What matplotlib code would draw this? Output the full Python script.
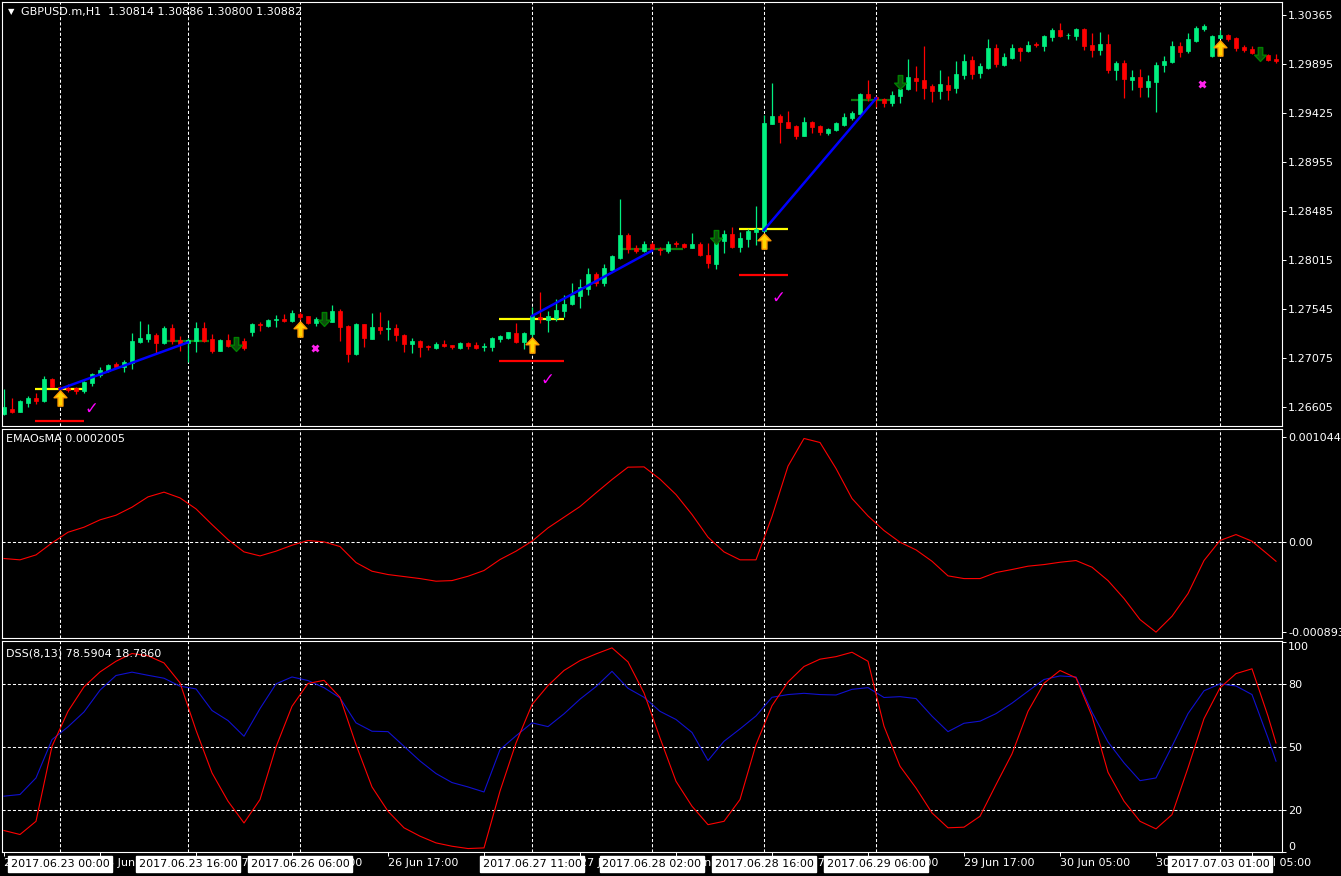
import numpy as np
import matplotlib.pyplot as plt
from matplotlib.path import Path

# ---------------- data (GBPUSD.m H1, bar 0 = 22 Jun 17:00) ----------------
opens = [1.26538, 1.26586, 1.26557, 1.26643, 1.26695, 1.26663, 1.26874, 1.26800, 1.26790, 1.26787,
         1.26758, 1.26832, 1.26912, 1.26950, 1.27017, 1.26989, 1.27030, 1.27228, 1.27257, 1.27296,
         1.27219, 1.27363, 1.27248, 1.27222, 1.27238, 1.27366, 1.27254, 1.27142, 1.27248, 1.27190,
         1.27238, 1.27324, 1.27404, 1.27382, 1.27436, 1.27452, 1.27433, 1.27497, 1.27475, 1.27411,
         1.27452, 1.27423, 1.27526, 1.27382, 1.27113, 1.27401, 1.27257, 1.27375, 1.27356, 1.27363,
         1.27296, 1.27209, 1.27238, 1.27193, 1.27171, 1.27209, 1.27196, 1.27171, 1.27216, 1.27200,
         1.27180, 1.27184, 1.27260, 1.27267, 1.27312, 1.27232, 1.27305, 1.27468, 1.27439, 1.27455,
         1.27526, 1.27593, 1.27670, 1.27737, 1.27881, 1.27797, 1.27919, 1.28037, 1.28255, 1.28133,
         1.28104, 1.28168, 1.28124, 1.28104, 1.28175, 1.28168, 1.28133, 1.28168, 1.28063, 1.27980,
         1.28200, 1.28264, 1.28143, 1.28216, 1.28287, 1.28296, 1.29319, 1.29396, 1.29338, 1.29300,
         1.29204, 1.29342, 1.29300, 1.29236, 1.29262, 1.29310, 1.29374, 1.29415, 1.29607, 1.29578,
         1.29556, 1.29517, 1.29591, 1.29655, 1.29760, 1.29741, 1.29684, 1.29636, 1.29693, 1.29668,
         1.29789, 1.29933, 1.29808, 1.29860, 1.30048, 1.29885, 1.29955, 1.30048, 1.30019, 1.30090,
         1.30071, 1.30157, 1.30221, 1.30170, 1.30166, 1.30230, 1.30077, 1.30029, 1.30087, 1.29837,
         1.29904, 1.29741, 1.29770, 1.29674, 1.29722, 1.29885, 1.29911, 1.30067, 1.30019, 1.30115,
         1.30230, 1.29971, 1.30147, 1.30173, 1.30144, 1.30058, 1.30039, 1.30010, 1.29981, 1.29943]
highs = [1.26778, 1.26688, 1.26672, 1.26710, 1.26742, 1.26902, 1.26880, 1.26806, 1.26822, 1.26797,
         1.26858, 1.26931, 1.26985, 1.27017, 1.27040, 1.27056, 1.27312, 1.27430, 1.27401, 1.27312,
         1.27382, 1.27398, 1.27283, 1.27264, 1.27417, 1.27417, 1.27302, 1.27257, 1.27302, 1.27273,
         1.27264, 1.27414, 1.27423, 1.27446, 1.27487, 1.27494, 1.27535, 1.27513, 1.27478, 1.27465,
         1.27513, 1.27583, 1.27545, 1.27391, 1.27414, 1.27404, 1.27507, 1.27516, 1.27439, 1.27401,
         1.27305, 1.27264, 1.27248, 1.27203, 1.27225, 1.27248, 1.27200, 1.27225, 1.27232, 1.27225,
         1.27216, 1.27273, 1.27296, 1.27328, 1.27407, 1.27328, 1.27564, 1.27705, 1.27526, 1.27641,
         1.27676, 1.27791, 1.27833, 1.27935, 1.27903, 1.27977, 1.28063, 1.28597, 1.28271, 1.28159,
         1.28197, 1.28191, 1.28136, 1.28197, 1.28197, 1.28178, 1.28274, 1.28191, 1.28175, 1.28271,
         1.28303, 1.28328, 1.28287, 1.28309, 1.28536, 1.29406, 1.29716, 1.29415, 1.29447, 1.29313,
         1.29386, 1.29351, 1.29306, 1.29281, 1.29342, 1.29428, 1.29447, 1.29620, 1.29741, 1.29588,
         1.29569, 1.29636, 1.29786, 1.29943, 1.29876, 1.30071, 1.29703, 1.29837, 1.29780, 1.29923,
         1.29991, 1.29971, 1.29901, 1.30134, 1.30087, 1.30000, 1.30087, 1.30058, 1.30115, 1.30106,
         1.30173, 1.30240, 1.30288, 1.30192, 1.30237, 1.30237, 1.30192, 1.30202, 1.30182, 1.29923,
         1.29933, 1.29837, 1.29847, 1.29789, 1.29914, 1.29971, 1.30115, 1.30106, 1.30192, 1.30259,
         1.30278, 1.30173, 1.30221, 1.30179, 1.30157, 1.30077, 1.30067, 1.30061, 1.29991, 1.29991]
lows = [1.26528, 1.26547, 1.26554, 1.26608, 1.26631, 1.26650, 1.26794, 1.26768, 1.26752, 1.26730,
        1.26739, 1.26806, 1.26896, 1.26937, 1.26976, 1.26937, 1.26969, 1.27222, 1.27232, 1.27126,
        1.27212, 1.27212, 1.27142, 1.27040, 1.27136, 1.27232, 1.27126, 1.27139, 1.27184, 1.27152,
        1.27152, 1.27286, 1.27334, 1.27375, 1.27372, 1.27417, 1.27423, 1.27439, 1.27404, 1.27382,
        1.27407, 1.27417, 1.27241, 1.27040, 1.27107, 1.27184, 1.27257, 1.27305, 1.27248, 1.27241,
        1.27136, 1.27126, 1.27088, 1.27152, 1.27164, 1.27177, 1.27164, 1.27164, 1.27164, 1.27158,
        1.27145, 1.27145, 1.27232, 1.27260, 1.27216, 1.27164, 1.27280, 1.27407, 1.27321, 1.27430,
        1.27471, 1.27583, 1.27558, 1.27676, 1.27769, 1.27769, 1.27913, 1.28028, 1.28085, 1.28079,
        1.28095, 1.28111, 1.28066, 1.28079, 1.28143, 1.28127, 1.28127, 1.28053, 1.27941, 1.27925,
        1.28085, 1.28133, 1.28095, 1.28143, 1.28159, 1.28287, 1.29319, 1.29134, 1.29278, 1.29175,
        1.29201, 1.29230, 1.29217, 1.29217, 1.29255, 1.29303, 1.29358, 1.29406, 1.29543, 1.29485,
        1.29485, 1.29495, 1.29524, 1.29645, 1.29636, 1.29562, 1.29533, 1.29562, 1.29549, 1.29620,
        1.29751, 1.29751, 1.29760, 1.29844, 1.29863, 1.29879, 1.29943, 1.29923, 1.30010, 1.30058,
        1.30019, 1.30115, 1.30154, 1.30138, 1.30125, 1.30029, 1.29962, 1.29981, 1.29812, 1.29741,
        1.29569, 1.29645, 1.29578, 1.29578, 1.29434, 1.29818, 1.29901, 1.29962, 1.30000, 1.30106,
        1.30211, 1.29965, 1.30141, 1.30119, 1.30023, 1.30013, 1.29991, 1.29971, 1.29927, 1.29908]
closes = [1.26605, 1.26557, 1.26663, 1.26695, 1.26663, 1.26874, 1.26797, 1.26781, 1.26771, 1.26758,
          1.26845, 1.26918, 1.26960, 1.27008, 1.26989, 1.27040, 1.27238, 1.27267, 1.27302, 1.27219,
          1.27359, 1.27241, 1.27209, 1.27244, 1.27366, 1.27241, 1.27142, 1.27248, 1.27190, 1.27238,
          1.27168, 1.27401, 1.27388, 1.27439, 1.27452, 1.27433, 1.27510, 1.27471, 1.27411, 1.27452,
          1.27427, 1.27526, 1.27375, 1.27117, 1.27401, 1.27270, 1.27372, 1.27344, 1.27366, 1.27299,
          1.27209, 1.27238, 1.27184, 1.27177, 1.27209, 1.27190, 1.27177, 1.27216, 1.27190, 1.27174,
          1.27193, 1.27264, 1.27286, 1.27321, 1.27232, 1.27312, 1.27478, 1.27449, 1.27478, 1.27535,
          1.27593, 1.27679, 1.27753, 1.27877, 1.27797, 1.27935, 1.28053, 1.28255, 1.28120, 1.28104,
          1.28168, 1.28120, 1.28111, 1.28168, 1.28165, 1.28136, 1.28168, 1.28063, 1.27989, 1.28207,
          1.28264, 1.28140, 1.28223, 1.28293, 1.28309, 1.29332, 1.29396, 1.29338, 1.29284, 1.29204,
          1.29342, 1.29294, 1.29246, 1.29271, 1.29332, 1.29386, 1.29428, 1.29607, 1.29572, 1.29556,
          1.29524, 1.29597, 1.29658, 1.29770, 1.29732, 1.29668, 1.29636, 1.29703, 1.29645, 1.29799,
          1.29923, 1.29802, 1.29876, 1.30048, 1.29895, 1.29962, 1.30048, 1.30019, 1.30077, 1.30080,
          1.30163, 1.30221, 1.30166, 1.30176, 1.30230, 1.30071, 1.30032, 1.30087, 1.29837, 1.29904,
          1.29751, 1.29770, 1.29674, 1.29732, 1.29885, 1.29923, 1.30067, 1.30010, 1.30134, 1.30240,
          1.30259, 1.30163, 1.30173, 1.30134, 1.30051, 1.30032, 1.30000, 1.29981, 1.29936, 1.29927]

# oscillators read every 2 bars (plus the last bar)
osc_bars = list(range(0, 160, 2)) + [159]
ema_osma = np.array([-1.62, -1.75, -1.26, -0.07, 0.99, 1.49, 2.22, 2.68, 3.48, 4.50,
                     4.97, 4.40, 3.31, 1.75, 0.26, -0.96, -1.36, -0.89, -0.30, 0.17,
                     0.03, -0.43, -2.02, -2.88, -3.21, -3.41, -3.61, -3.87, -3.81, -3.38,
                     -2.81, -1.72, -0.89, 0.10, 1.42, 2.48, 3.54, 4.90, 6.22, 7.45,
                     7.48, 6.26, 4.73, 2.75, 0.50, -0.96, -1.75, -1.75, 2.55, 7.55,
                     10.3, 9.9, 7.32, 4.34, 2.61, 1.16, 0.0, -0.76, -1.89, -3.34,
                     -3.61, -3.61, -3.01, -2.71, -2.38, -2.22, -1.99, -1.82, -2.48, -3.81,
                     -5.59, -7.68, -8.93, -7.35, -5.10, -1.82, 0.17, 0.76, 0.10, -1.22,
                     -1.89]) * 1e-4
dss_red = [10.2, 8.3, 14.6, 50.4, 67.1, 78.8, 85.9, 91.0, 94.7, 93.6,
           90.2, 80.7, 58.1, 37.7, 24.2, 13.8, 25.0, 50.1, 69.5, 80.4,
           81.9, 73.8, 51.2, 31.0, 19.4, 11.5, 7.5, 4.3, 2.7, 1.6,
           1.9, 29.0, 52.0, 70.3, 79.4, 86.6, 91.3, 94.5, 97.4, 90.7,
           75.9, 54.4, 33.7, 21.8, 13.0, 14.6, 25.0, 51.2, 69.8, 81.1,
           88.5, 92.0, 93.2, 95.3, 91.0, 60.0, 40.9, 30.5, 18.6, 11.5,
           11.8, 17.0, 32.1, 46.8, 67.1, 80.5, 86.6, 83.1, 64.8, 38.0,
           24.2, 14.6, 11.0, 17.8, 40.1, 63.6, 78.3, 85.1, 87.4, 64.8,
           52.0]
dss_blue = [26.6, 27.4, 35.3, 53.6, 59.7, 66.8, 77.2, 84.2, 85.8, 84.3,
            82.9, 79.1, 77.8, 67.5, 62.7, 55.2, 68.4, 80.2, 83.5, 81.8,
            78.4, 73.5, 61.6, 57.6, 57.4, 50.4, 43.4, 37.4, 33.1, 31.0,
            28.6, 48.8, 55.4, 61.6, 59.8, 65.9, 72.9, 78.9, 86.2, 78.1,
            73.8, 67.1, 63.2, 57.0, 43.6, 52.8, 58.7, 64.9, 73.8, 75.1,
            75.7, 75.1, 74.9, 77.6, 78.4, 73.7, 74.1, 73.2, 64.8, 57.4,
            61.4, 62.4, 66.0, 71.0, 76.7, 82.3, 84.0, 83.5, 66.7, 52.5,
            42.5, 34.0, 35.3, 50.4, 66.0, 76.9, 80.2, 79.2, 75.1, 54.4,
            43.3]

# signal objects on the price chart
trade_bars = [7, 66, 95]
level_start = [3.9, 61.9, 91.9]
level_end = [10.0, 70.0, 98.0]
entry_prices = [1.26778, 1.27452, 1.28312]
stop_prices = [1.26471, 1.27046, 1.27871]
trend_end_bars = [23, 81, 109]
trend_start_prices = [1.26778, 1.27478, 1.28302]
trend_end_prices = [1.27225, 1.28104, 1.29565]
target_start = [20.1, 77.2, 105.9]
target_end = [25.6, 84.9, 110.7]
target_prices = [1.27241, 1.28120, 1.29552]
up_bars = [7, 37, 66, 95, 152]
up_prices = [1.26691, 1.27353, 1.27200, 1.28197, 1.30048]
down_bars = [29, 40, 89, 112, 157]
down_prices = [1.27209, 1.27449, 1.28235, 1.29722, 1.29990]
check_bars = [10.9, 67.9, 96.8]
check_prices = [1.26591, 1.26864, 1.27653]
cross_bars = [38.9, 149.8]
cross_prices = [1.27174, 1.29703]

price_ticks = [1.30365, 1.29895, 1.29425, 1.28955, 1.28485, 1.28015, 1.27545, 1.27075, 1.26605]
sep_bars = [7, 23, 37, 66, 81, 95, 109, 152]
sep_labels = ['2017.06.23 00:00', '2017.06.23 16:00', '2017.06.26 06:00', '2017.06.27 11:00',
              '2017.06.28 02:00', '2017.06.28 16:00', '2017.06.29 06:00', '2017.07.03 01:00']
time_ticks = [0, 12, 24, 36, 48, 60, 72, 84, 96, 108, 120, 132, 144, 156]
time_labels = ['22 Jun 2017', '23 Jun 05:00', '23 Jun 17:00', '26 Jun 05:00', '26 Jun 17:00',
               '27 Jun 05:00', '27 Jun 17:00', '28 Jun 05:00', '28 Jun 17:00', '29 Jun 05:00',
               '29 Jun 17:00', '30 Jun 05:00', '30 Jun 17:00', '3 Jul 05:00']

# ---------------- figure ----------------
W, H = 1341, 876
fig = plt.figure(figsize=(W / 100, H / 100), dpi=100, facecolor='black')

def rect(top, bottom):
    return [2 / W, 1 - bottom / H, 1280 / W, (bottom - top) / H]

ax1 = fig.add_axes(rect(2, 426))
ax2 = fig.add_axes(rect(429, 638))
ax3 = fig.add_axes(rect(641, 852))

dash = (0, (3, 2))
for ax in (ax1, ax2, ax3):
    ax.set_facecolor('black')
    ax.set_xlim(-0.25, 159.75)
    for s in ax.spines.values():
        s.set_color('white')
        s.set_linewidth(0.8)
    ax.yaxis.tick_right()
    ax.tick_params(axis='y', colors='white', labelsize=8, length=3, width=0.7, pad=1.5)
    for b in sep_bars:
        ax.axvline(b, color='white', lw=0.75, ls=dash, zorder=0.5)

ax1.set_xticks([])
ax2.set_xticks([])

# candles
x = np.arange(len(opens))
o, h, l, c = map(np.array, (opens, highs, lows, closes))
col = np.where(c >= o, '#00f080', '#ff0000')
ax1.vlines(x, l, h, colors=col, lw=0.9, zorder=2)
ax1.bar(x, np.maximum(np.abs(c - o), 0.000012), bottom=np.minimum(o, c), width=0.62,
        color=col, edgecolor=col, lw=0.5, zorder=2.1)

# trade levels
ax1.hlines(entry_prices, level_start, level_end, colors='#ffff00', lw=1.6, zorder=1.5)
ax1.hlines(stop_prices, level_start, level_end, colors='#ff0000', lw=1.6, zorder=1.5)
ax1.hlines(target_prices, target_start, target_end, colors='#0a7a0a', lw=1.6, zorder=1.5)
for i in range(len(trade_bars)):
    ax1.plot([trade_bars[i], trend_end_bars[i]], [trend_start_prices[i], trend_end_prices[i]],
             color='#0000ff', lw=1.8, zorder=2.5)

up_arrow = Path([(0, .5), (.42, .05), (.16, .05), (.16, -.5), (-.16, -.5), (-.16, .05),
                 (-.42, .05), (0, .5)], closed=True)
down_arrow = Path([(0, -.5), (.42, -.05), (.16, -.05), (.16, .5), (-.16, .5), (-.16, -.05),
                   (-.42, -.05), (0, -.5)], closed=True)
ax1.plot(up_bars, up_prices, ls='none', marker=up_arrow, ms=11, mfc='#ffd400', mec='#ff9a00',
         mew=1, zorder=4)
ax1.plot(down_bars, down_prices, ls='none', marker=down_arrow, ms=10, mfc='#0b4f0b',
         mec='#008000', mew=1, zorder=4)
for bx, py in zip(check_bars, check_prices):
    ax1.text(bx, py, '\u2713', color='#ff00ff', fontsize=12, fontweight='bold',
             ha='center', va='center', zorder=4)
ax1.plot(cross_bars, cross_prices, ls='none', marker='x', ms=5, mew=2, color='#ff22ee', zorder=4)

ax1.set_ylim(1.26423, 1.30489)
ax1.set_yticks(price_ticks)
ax1.set_yticklabels([f'{p:.5f}' for p in price_ticks])

# EMAOsMA
ax2.plot(osc_bars, ema_osma, color='#ff0000', lw=0.8)
ax2.axhline(0, color='white', lw=0.75, ls=dash, zorder=0.5)
ax2.set_ylim(-0.000951, 0.001124)
ax2.set_yticks([0.0010443, 0.0, -0.000893])
ax2.set_yticklabels(['0.0010443', '0.00', '-0.000893'])

# DSS
ax3.plot(osc_bars, dss_blue, color='#1010d0', lw=0.8)
ax3.plot(osc_bars, dss_red, color='#ff0000', lw=0.8)
for lv in (80, 50, 20):
    ax3.axhline(lv, color='white', lw=0.75, ls=dash, zorder=0.5)
ax3.set_ylim(-0.05, 100.67)
ax3.set_yticks([100, 80, 50, 20, 0])
ax3.set_yticklabels(['100', '80', '50', '20', '0'])
ylabs = ax3.get_yticklabels()
ylabs[0].set_va('top')
ylabs[-1].set_va('bottom')

ax3.set_xticks(time_ticks)
ax3.set_xticklabels(time_labels, ha='left')
ax3.tick_params(axis='x', colors='white', labelsize=8, length=3, width=0.7, pad=1)
tr = ax3.get_xaxis_transform()
for b, lab in zip(sep_bars, sep_labels):
    ax3.text(b, -0.057, lab, transform=tr, ha='center', va='center', fontsize=8, color='black',
             bbox=dict(boxstyle='square,pad=0.25', fc='white', ec='white'), zorder=5, clip_on=False)

# captions
fig.text(8 / W, 1 - 12 / H, '\u25bc', color='white', fontsize=6, va='center')
fig.text(21 / W, 1 - 12 / H, 'GBPUSD.m,H1  1.30814 1.30886 1.30800 1.30882', color='white',
         fontsize=8, va='center')
fig.text(6 / W, 1 - 439 / H, 'EMAOsMA 0.0002005', color='white', fontsize=8, va='center')
fig.text(6 / W, 1 - 653 / H, 'DSS(8,13) 78.5904 18.7860', color='white', fontsize=8, va='center')

fig.savefig('out.png', dpi=100, facecolor='black')
